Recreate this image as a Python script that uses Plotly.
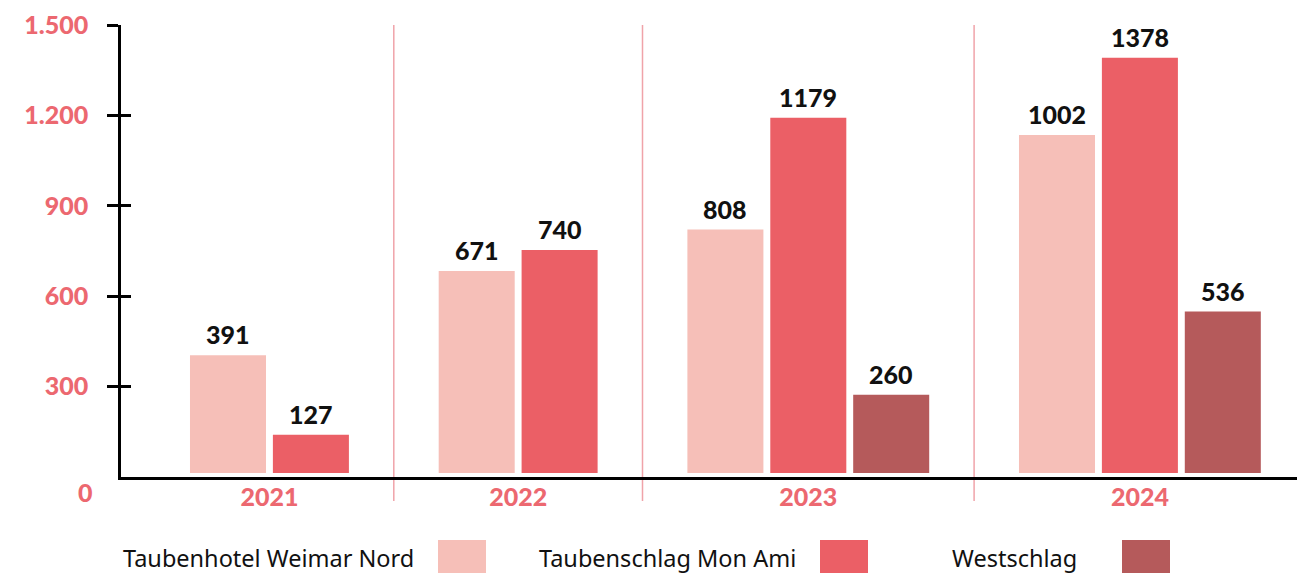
import plotly.graph_objects as go

# ---------------- data ----------------
YEARS = ["2021", "2022", "2023", "2024"]
SERIES = ["Taubenhotel Weimar Nord", "Taubenschlag Mon Ami", "Westschlag"]
WEIMAR_NORD = [391, 671, 808, 1122]
MON_AMI = [127, 740, 1179, 1378]
WESTSCHLAG = [None, None, 260, 536]
WEIMAR_NORD_LABELS = ["391", "671", "808", "1002"]
MON_AMI_LABELS = ["127", "740", "1179", "1378"]
WESTSCHLAG_LABELS = [None, None, "260", "536"]
Y_TICKS = [300, 600, 900, 1200, 1500]

# ---------------- style ----------------
COLORS = ["#f6bfb8", "#eb5f66", "#b55a5b"]
AXIS_RED = "#ec6870"
SEP_COLOR = "#f0a3a9"
BASE = 13          # bars float slightly above the axis line
BAR_W = 0.917
W, H = 1297, 573
ML, MR, MT, MB = 121, 0, 25, 96
PW, PH = W - ML - MR, H - MT - MB

values = [WEIMAR_NORD, MON_AMI, WESTSCHLAG]
labels = [WEIMAR_NORD_LABELS, MON_AMI_LABELS, WESTSCHLAG_LABELS]

# slot layout: consecutive bars per year, one empty slot between years
slots = [[None] * len(YEARS) for _ in SERIES]
centers, gaps = [], []
s = 0
for j in range(len(YEARS)):
    used = []
    for i in range(len(SERIES)):
        if values[i][j] is not None:
            slots[i][j] = s
            used.append(s)
            s += 1
    centers.append(sum(used) / len(used))
    if j < len(YEARS) - 1:
        gaps.append(s)
        s += 1

fig = go.Figure()
annotations = []
for i, name in enumerate(SERIES):
    xs = [slots[i][j] for j in range(len(YEARS)) if values[i][j] is not None]
    ys = [values[i][j] for j in range(len(YEARS)) if values[i][j] is not None]
    ts = [labels[i][j] for j in range(len(YEARS)) if values[i][j] is not None]
    fig.add_trace(go.Bar(
        x=xs, y=ys, base=[BASE] * len(ys), width=BAR_W, name=name,
        marker=dict(color=COLORS[i], line=dict(width=0)), showlegend=False,
        hoverinfo="skip",
    ))
    for x, y, t in zip(xs, ys, ts):
        annotations.append(dict(
            x=x, y=y + BASE, xref="x", yref="y", text=t, showarrow=False,
            yanchor="bottom", yshift=4,
            font=dict(family="Lato", size=25, color="#111111", weight=900),
        ))

# dummy trace to keep the inside-tick axis alive
fig.add_trace(go.Scatter(x=[0], y=[0], yaxis="y2", mode="markers",
                         marker=dict(opacity=0), showlegend=False, hoverinfo="skip"))

# "0" label below axis line
annotations.append(dict(
    x=0, xref="paper", xanchor="right", xshift=-26, y=0, yref="y",
    yanchor="middle", yshift=-15, text="0", showarrow=False,
    font=dict(family="Lato", size=25, color=AXIS_RED, weight=900),
))

# separators
shapes = []
for g in gaps:
    shapes.append(dict(type="line", xref="x", yref="paper", x0=g, x1=g,
                       y0=-(501 - (MT + PH)) / PH, y1=1,
                       line=dict(color=SEP_COLOR, width=1.5), layer="below"))

# manual legend (text left, swatch right)
def px_x(p):
    return (p - ML) / PW

def px_y(p):
    return (MT + PH - p) / PH

LEG_TEXT_X = [121, 537, 950]
LEG_SW_X = [438, 820, 1122]
for i, name in enumerate(SERIES):
    annotations.append(dict(
        x=px_x(LEG_TEXT_X[i]), xref="paper", xanchor="left",
        y=px_y(558), yref="paper", yanchor="middle", text=name, showarrow=False,
        font=dict(family="Noto Sans", size=23.5, color="#111111"),
    ))
    shapes.append(dict(type="rect", xref="paper", yref="paper",
                       x0=px_x(LEG_SW_X[i]), x1=px_x(LEG_SW_X[i] + 48),
                       y0=px_y(540), y1=px_y(580),
                       fillcolor=COLORS[i], line=dict(width=0)))

x_range = [-(228 - ML) / 82.9, (W - 228) / 82.9]

fig.update_layout(
    width=W, height=H,
    margin=dict(l=ML, r=MR, t=MT, b=MB, autoexpand=False),
    paper_bgcolor="white", plot_bgcolor="white",
    separators=",.",
    barmode="overlay",
    xaxis=dict(
        range=x_range, tickvals=centers, ticktext=YEARS,
        showgrid=False, zeroline=False, showline=True, linecolor="black",
        linewidth=2.5, ticks="", ticklabelstandoff=-4,
        tickfont=dict(family="Lato", size=25, color=AXIS_RED, weight=900),
    ),
    yaxis=dict(
        range=[0, 1500], tickvals=Y_TICKS, tickformat=",d",
        showgrid=False, zeroline=False, showline=True, linecolor="black",
        linewidth=2.5, ticks="outside", ticklen=11, tickwidth=2.5,
        tickcolor="black", ticklabelstandoff=14,
        tickfont=dict(family="Lato", size=25, color=AXIS_RED, weight=900),
    ),
    yaxis2=dict(
        overlaying="y", anchor="x", side="left", range=[0, 1500],
        tickvals=Y_TICKS, ticks="inside", ticklen=10, tickwidth=2.5,
        tickcolor="black", showticklabels=False, showgrid=False,
        zeroline=False, showline=False,
    ),
    annotations=annotations,
    shapes=shapes,
)

fig.write_html(
    "out.html",
    config={"displayModeBar": False},
    post_script="document.body.style.margin='0';document.body.style.overflow='hidden';",
)
